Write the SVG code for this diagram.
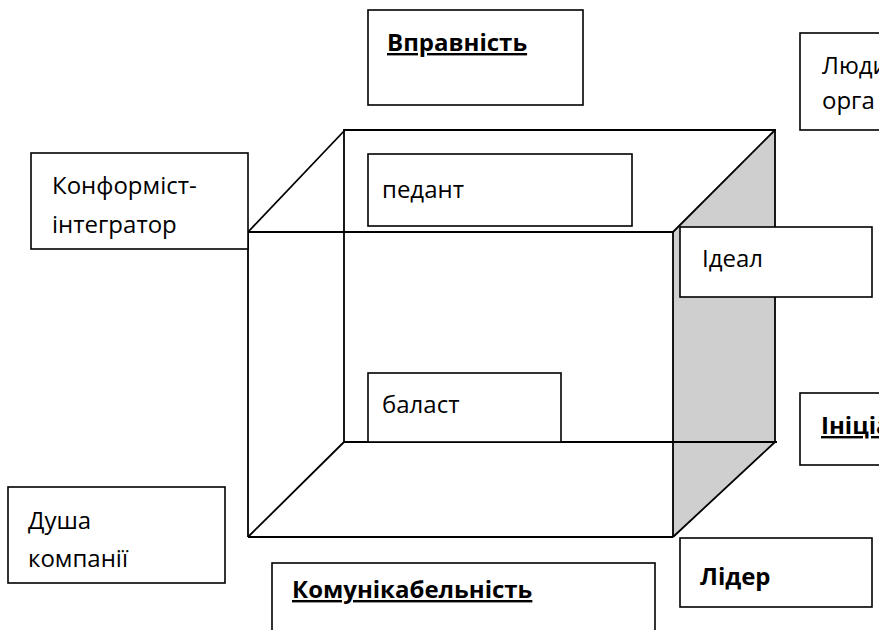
<svg xmlns="http://www.w3.org/2000/svg" width="879" height="630" viewBox="0 0 879 630">
<style>
.box{fill:#fff;stroke:#000;stroke-width:1.6}
.edge{stroke:#000;stroke-width:1.8;fill:none}
.t{font-family:"Open Sans","Noto Sans",sans-serif;font-size:24px;fill:#000}
.b{font-weight:bold;text-decoration:underline}
.bn{font-weight:bold}
</style>
<rect width="879" height="630" fill="#fff"/>
<g id="connectors">
<polygon points="673,232 775,130 775,442 673,537" fill="#cfcfcf" stroke="none"/>
<line class="edge" x1="344" y1="130" x2="776" y2="130"/>
<line class="edge" x1="344" y1="129" x2="344" y2="442"/>
<line class="edge" x1="344" y1="442" x2="777" y2="442"/>
<line class="edge" x1="775" y1="130" x2="775" y2="442"/>
<line class="edge" x1="248" y1="232" x2="673" y2="232"/>
<line class="edge" x1="248" y1="232" x2="248" y2="537"/>
<line class="edge" x1="248" y1="537" x2="673" y2="537"/>
<line class="edge" x1="673" y1="232" x2="673" y2="537"/>
<line class="edge" x1="248" y1="232" x2="345" y2="130"/>
<line class="edge" x1="673" y1="232" x2="775" y2="130"/>
<line class="edge" x1="248" y1="537" x2="344" y2="442"/>
<line class="edge" x1="673" y1="537" x2="775" y2="442"/>
</g>
<g id="vpravnist"><rect class="box" x="368" y="10" width="215" height="95"/><text class="t b" x="387" y="51">Вправність</text></g>
<g id="liudy"><rect class="box" x="800" y="33" width="90" height="97"/><text class="t" x="822" y="74">Люди</text><text class="t" x="822" y="109">орга</text></g>
<g id="konformist"><rect class="box" x="31" y="153" width="217" height="96"/><text class="t" x="52" y="194">Конформіст-</text><text class="t" x="52" y="233">інтегратор</text></g>
<g id="pedant"><rect class="box" x="368" y="154" width="264" height="72"/><text class="t" x="382" y="198">педант</text></g>
<g id="ideal"><rect class="box" x="680" y="227" width="192" height="70"/><text class="t" x="702" y="267">Ідеал</text></g>
<g id="balast"><rect class="box" x="368" y="373" width="193" height="69"/><text class="t" x="382" y="413">баласт</text></g>
<g id="initsiatyvnist"><rect class="box" x="800" y="393" width="90" height="72"/><text class="t b" x="821" y="434">Ініціа</text></g>
<g id="dusha"><rect class="box" x="8" y="487" width="217" height="96"/><text class="t" x="28" y="529">Душа</text><text class="t" x="28" y="567">компанії</text></g>
<g id="komunikabelnist"><rect class="box" x="272" y="563" width="383" height="80"/><text class="t b" x="292" y="598">Комунікабельність</text></g>
<g id="lider"><rect class="box" x="680" y="538" width="192" height="69"/><text class="t bn" x="700" y="585">Лідер</text></g>
</svg>
